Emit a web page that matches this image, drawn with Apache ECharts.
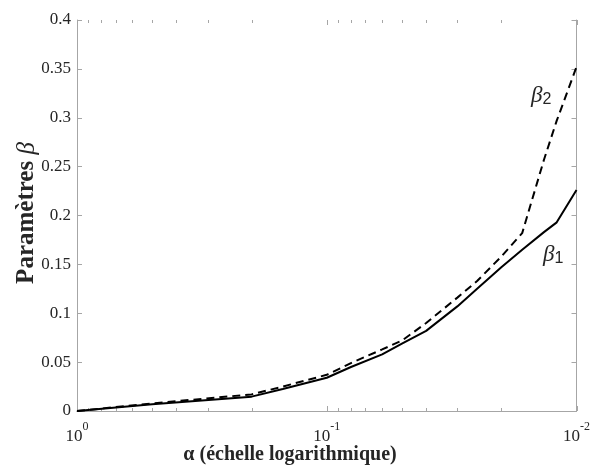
<!DOCTYPE html>
<html>
<head>
<meta charset="utf-8">
<script src="https://cdn.jsdelivr.net/npm/echarts@6/dist/echarts.min.js"></script>
<style>html,body{margin:0;padding:0;background:#fff}#c{width:593px;height:470px}</style>
</head>
<body>
<div id="c"></div>
<script>
// α values (log scale, decreasing to the right)
const alpha = [1, 0.5, 0.2, 0.15, 0.1, 0.08, 0.06, 0.05, 0.04, 0.03, 0.025, 0.02, 0.0165, 0.0135, 0.012, 0.01];
const beta1 = [0, 0.007, 0.0147, 0.0225, 0.034, 0.045, 0.058, 0.069, 0.082, 0.107, 0.125, 0.147, 0.165, 0.183, 0.193, 0.226];
const beta2 = [0, 0.0078, 0.017, 0.025, 0.037, 0.049, 0.063, 0.072, 0.090, 0.116, 0.133, 0.158, 0.182, 0.257, 0.297, 0.352];
const majorTicks = [1, 0.1, 0.01];
const minorTicks = [0.9, 0.8, 0.7, 0.6, 0.5, 0.4, 0.3, 0.2, 0.09, 0.08, 0.07, 0.06, 0.05, 0.04, 0.03, 0.02];
const yTicks = [0, 0.05, 0.1, 0.15, 0.2, 0.25, 0.3, 0.35, 0.4];

const serif = "'Liberation Serif','Times New Roman',serif";
const axisColor = '#a6a6a6';
const textColor = '#262626';

function xAxisMain(pos, showLabel) {
  return {
    type: 'log', logBase: 10, min: 0.01, max: 1, inverse: true, position: pos,
    axisLine: { show: true, lineStyle: { color: axisColor, width: 1 } },
    axisTick: { show: false },
    axisLabel: {
      show: showLabel, margin: 10, color: textColor,
      formatter: v => '{b|10}{s|' + Math.round(Math.log10(v)) + '}',
      rich: {
        b: { fontFamily: serif, fontSize: 17, color: textColor, lineHeight: 24, verticalAlign: 'bottom' },
        s: { fontFamily: serif, fontSize: 12, color: textColor, lineHeight: 12, verticalAlign: 'top' }
      }
    },
    splitLine: { show: false }, minorTick: { show: false }
  };
}
function yAxisDef(pos, showLabel) {
  return {
    type: 'value', min: 0, max: 0.4, interval: 0.05, position: pos,
    axisLine: { show: true, lineStyle: { color: axisColor, width: 1 } },
    axisTick: { show: true, inside: true, length: 5, lineStyle: { color: axisColor } },
    axisLabel: { show: showLabel, fontFamily: serif, fontSize: 17, color: textColor, margin: 6,
      formatter: v => String(+v.toFixed(2)) },
    splitLine: { show: false }
  };
}

// tick marks of the log axis (bottom and top), placed through the axis scale
const tickData = majorTicks.map(v => [v, 0, 5]).concat(minorTicks.map(v => [v, 0, 3]));

const chart = echarts.init(document.getElementById('c'), null, { renderer: 'canvas' });
chart.setOption({
  animation: false,
  backgroundColor: '#fff',
  grid: { left: 77, right: 13, top: 20, bottom: 59 },
  xAxis: [xAxisMain('bottom', true), xAxisMain('top', false)],
  yAxis: [yAxisDef('left', true), yAxisDef('right', false)],
  series: [
    { type: 'custom', xAxisIndex: 0, yAxisIndex: 0, silent: true, clip: false, z: 1,
      data: tickData,
      renderItem: (params, api) => {
        const len = api.value(2);
        const b = api.coord([api.value(0), 0]);
        const t = api.coord([api.value(0), 0.4]);
        const st = { stroke: axisColor, lineWidth: 1 };
        const x = Math.round(b[0]) + 0.5;
        return { type: 'group', children: [
          { type: 'line', shape: { x1: x, y1: b[1], x2: x, y2: b[1] - len }, style: st },
          { type: 'line', shape: { x1: x, y1: t[1], x2: x, y2: t[1] + len }, style: st }
        ] };
      } },
    { type: 'line', xAxisIndex: 0, yAxisIndex: 0, showSymbol: false, symbol: 'none', z: 3,
      data: alpha.map((a, i) => [a, beta1[i]]), lineStyle: { color: '#000', width: 2 } },
    { type: 'line', xAxisIndex: 0, yAxisIndex: 0, showSymbol: false, symbol: 'none', z: 3,
      data: alpha.map((a, i) => [a, beta2[i]]), lineStyle: { color: '#000', width: 2, type: [8, 5] } }
  ],
  graphic: [
    { type: 'text', x: 290, y: 455, style: { text: '{b|α (échelle logarithmique)}', align: 'center', verticalAlign: 'middle',
      rich: { b: { fontFamily: serif, fontSize: 20, fontWeight: 'bold', fill: textColor } } } },
    { type: 'text', x: 27, y: 213, rotation: Math.PI / 2, style: { text: '{b|Paramètres }{i|β}', align: 'center', verticalAlign: 'middle',
      rich: { b: { fontFamily: serif, fontSize: 25, fontWeight: 'bold', fill: textColor },
              i: { fontFamily: serif, fontSize: 25, fontStyle: 'italic', fill: textColor } } } },
    { type: 'text', x: 531, y: 96, style: { text: '{g|β}{s|2}', align: 'left', verticalAlign: 'middle',
      rich: { g: { fontFamily: serif, fontSize: 23, fontStyle: 'italic', fill: textColor, lineHeight: 24, verticalAlign: 'top' },
              s: { fontFamily: "'Liberation Sans',Arial,sans-serif", fontSize: 16, fill: textColor, lineHeight: 15, verticalAlign: 'bottom' } } } },
    { type: 'text', x: 543, y: 255, style: { text: '{g|β}{s|1}', align: 'left', verticalAlign: 'middle',
      rich: { g: { fontFamily: serif, fontSize: 23, fontStyle: 'italic', fill: textColor, lineHeight: 24, verticalAlign: 'top' },
              s: { fontFamily: "'Liberation Sans',Arial,sans-serif", fontSize: 16, fill: textColor, lineHeight: 15, verticalAlign: 'bottom' } } } }
  ]
});
</script>
</body>
</html>
